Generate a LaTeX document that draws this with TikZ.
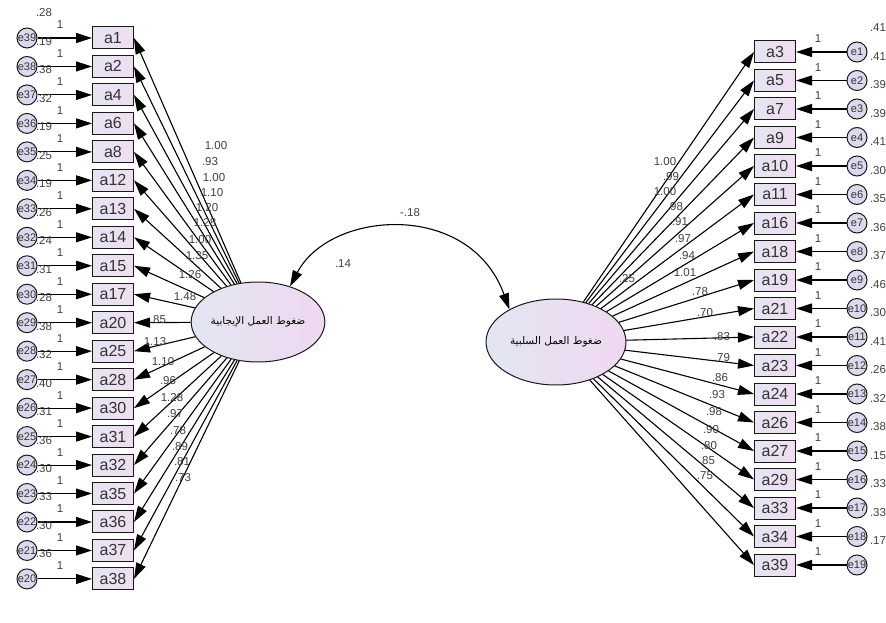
\documentclass[tikz,border=0pt]{standalone}
\usepackage{fontspec}
\setmainfont{Liberation Sans}
\newfontfamily\arabicfont[Script=Arabic]{DejaVu Sans}
\TeXXeTstate=1
\usetikzlibrary{arrows.meta,shapes.geometric}
\definecolor{boxL}{HTML}{E6E4F2}
\definecolor{boxR}{HTML}{EEDDF0}
\definecolor{errF}{HTML}{DCD8EE}
\definecolor{latL}{HTML}{E2E6F2}
\definecolor{latR}{HTML}{F0D8F0}
\tikzset{
 obs/.style={draw=black!90, line width=1pt, left color=boxL, right color=boxR, minimum width=41pt, minimum height=22pt, inner sep=0pt, font=\fontsize{16}{16}\selectfont, text=black!80},
 err/.style={circle, draw=black!90, line width=1pt, fill=errF, minimum size=20pt, inner sep=0pt, font=\fontsize{11}{11}\selectfont, text=black!80},
 lat/.style={ellipse, draw=black!90, line width=1pt, left color=latL, right color=latR, inner sep=0pt},
 arr/.style={line width=1.1pt, draw=black, -{Triangle[length=16pt,width=10pt]}},
 num/.style={font=\fontsize{11.5}{11.5}\selectfont, text=black!75, inner sep=0pt},
}
\begin{document}
\begin{tikzpicture}[x=1pt,y=-1pt]
\fill[white] (0,0) rectangle (886,623);
\useasboundingbox (0,0) rectangle (886,623);
\node[lat, minimum width=116pt, minimum height=80pt] (F1) at (258,322) {\arabicfont\fontsize{10.5}{10.5}\selectfont\beginR ضغوط العمل الإيجابية\endR};
\node[lat, minimum width=140pt, minimum height=86pt] (F2) at (556,342) {\arabicfont\fontsize{10.5}{10.5}\selectfont\beginR ضغوط العمل السلبية\endR};
% left indicators
\foreach \n/\e/\v/\ld/\lx/\ly [count=\i from 0] in {
 a1/e39/.28/1.00/216/146, a2/e38/.19/.93/210/162, a4/e37/.38/1.00/214/178,
 a6/e36/.32/1.10/212/193, a8/e35/.19/1.20/207/208, a12/e34/.25/1.28/205/223,
 a13/e33/.19/1.00/200/240, a14/e32/.26/1.35/197/256, a15/e31/.24/1.26/190/275,
 a17/e30/.31/1.48/185/297, a20/e29/.28/.85/158/320, a25/e28/.38/1.13/155/342,
 a28/e27/.32/1.10/163/362, a30/e26/.40/.96/168/381, a31/e25/.31/1.28/172/398,
 a32/e24/.36/.97/175/414, a35/e23/.30/.78/178/431, a36/e22/.33/.89/180/447,
 a37/e21/.30/.81/182/462, a38/e20/.36/.73/183/478} {
 \pgfmathsetmacro\yy{38+28.47*\i}
 \node[obs] (L\i) at (113,\yy) {\n};
 \node[err] (LE\i) at (27,\yy) {\e};
 \draw[arr] (LE\i) -- (L\i);
 \node[num] at (60,\yy-13) {1};
 \node[num] at (44,\yy-25) {\v};
 \draw[arr] (F1) -- (L\i.east);
 \node[num] at (\lx,\ly) {\ld};
}
% right indicators
\foreach \n/\e/\v/\ld/\lx/\ly [count=\i from 0] in {
 a3/e1/.41/1.00/665/162, a5/e2/.41/.99/671/177, a7/e3/.39/1.00/665/192,
 a9/e4/.39/.98/675/207, a10/e5/.41/.91/680/222, a11/e6/.30/.97/683/239,
 a16/e7/.35/.94/687/256, a18/e8/.36/1.01/685/273, a19/e9/.37/.78/700/292,
 a21/e10/.46/.70/705/313, a22/e11/.30/.83/722/337, a23/e12/.41/.79/722/358,
 a24/e13/.26/.86/720/378, a26/e14/.32/.93/717/395, a27/e15/.38/.98/714/412,
 a29/e16/.15/.90/711/430, a33/e17/.33/.80/709/446, a34/e18/.33/.85/707/461,
 a39/e19/.17/.75/705/476} {
 \pgfmathsetmacro\yy{52+28.5*\i}
 \node[obs] (R\i) at (775,\yy) {\n};
 \node[err] (RE\i) at (857,\yy) {\e};
 \draw[arr] (RE\i) -- (R\i);
 \node[num] at (818,\yy-13) {1};
 \node[num] at (878,\yy-24) {\v};
 \draw[arr] (F2) -- (R\i.west);
 \node[num] at (\lx,\ly) {\ld};
}
% covariance
\draw[line width=1.1pt, {Triangle[length=16pt,width=10pt]}-{Triangle[length=16pt,width=10pt]}] (F1.48) .. controls (330,210) and (470,200) .. (F2.145);
\node[num] (cov) at (410,213) {-.18};
\node[num] (v1) at (343,264) {.14};
\node[num] (v2) at (627,279) {.25};
\end{tikzpicture}
\end{document}
